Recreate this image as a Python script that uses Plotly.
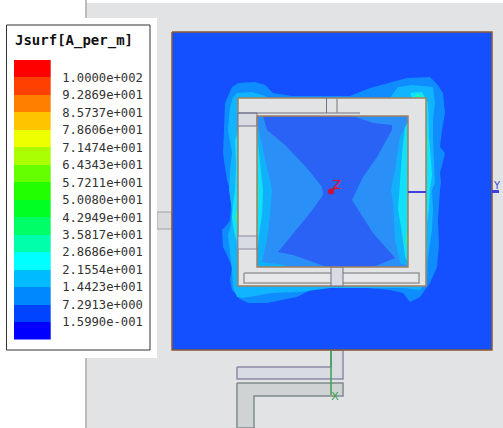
import plotly.graph_objects as go

W, H = 503, 428

legend_title = "Jsurf[A_per_m]"
band_colors = ["#ff0000", "#ff4000", "#ff8000", "#ffc400", "#eeff00", "#aaff00", "#66ff00", "#22ff00",
               "#00ff22", "#00ff66", "#00ffaa", "#00ffff", "#00bbff", "#0088ff", "#0044ff", "#0000ff"]
band_labels = ["1.0000e+002", "9.2869e+001", "8.5737e+001", "7.8606e+001", "7.1474e+001",
               "6.4343e+001", "5.7211e+001", "5.0080e+001", "4.2949e+001", "3.5817e+001",
               "2.8686e+001", "2.1554e+001", "1.4423e+001", "7.2913e+000", "1.5990e-001"]

halo_blue = [(225,103),(232,87),(238,83),(255,82),(265,85),(273,93),(292,96),(350,96),(370,88),(390,83),
             (407,78),(430,77),(437,84),(443,93),(445,113),(442,130),(440,147),(445,153),(442,165),(440,173),
             (441,182),(440,190),(439,205),(438,220),(439,245),(437,267),(430,283),(420,297),(410,302),
             (403,293),(390,290),(367,288),(317,287),(297,297),(267,303),(248,303),(240,299),(232,290),
             (230,280),(232,267),(227,255),(223,247),(222,230),(226,226),(230,220),(231,205),(230,190),
             (227,180),(225,167),(223,153),(224,130)]
halo_light = [(230,107),(233,97),(237,93),(252,92),(262,95),(270,98),(390,98),(398,87),(412,85),(433,87),
              (435,103),(433,120),(433,137),(434,160),(435,183),(432,190),(433,210),(432,230),(430,245),
              (428,257),(427,280),(420,290),(403,288),(330,288),(300,292),(272,293),(255,296),(242,298),
              (237,297),(233,287),(232,270),(230,250),(228,235),(231,225),(232,210),(229,190),(230,170),
              (232,153),(228,130)]
halo_cyan_left = [(238,132),(235,140),(236,165),(235,190),(233,205),(232,218),(234,232),(238,245)]
halo_cyan_right = [(410,93),(422,92),(428,103),(429,137),(431,160),(432,175),(430,190),(429,207),(427,223),
                   (427,250),(426,260),(426,98),(412,98)]
halo_green_right = [(414,97),(418,94),(423,97)]
halo_green_right_side = [(426,130),(428,143),(426,158)]
halo_green_left = [(238,205),(235,217),(238,228)]

inner_side_left = [(257,122),(262,145),(268,170),(272,190),(270,215),(267,240),(262,262),(285,265),(285,267),(257,267)]
inner_cyan_left = [(257,133),(260,160),(263,190),(262,215),(259,235),(257,250)]
inner_green_left = [(257,172),(259,186),(259,205),(257,215)]
inner_side_right = [(408,122),(400,137),(395,170),(391,190),(393,203),(395,240),(400,263),(408,266)]
inner_cyan_right = [(408,122),(405,127),(402,153),(400,187),(398,210),(402,233),(405,257),(408,262)]
inner_green_right = [(408,225),(405,240),(408,252)]
hourglass = [(263,116),(267,130),(285,145),(307,168),(322,187),(323,195),(310,213),(278,252),(293,255),
             (327,267),(373,267),(395,258),(373,233),(352,200),(363,177),(377,157),(392,130),(392,125),
             (373,123),(353,116)]

l_strip = [(237,367),(331,367),(331,350),(343,350),(343,379),(237,379)]
l_feed = [(237,383),(343,383),(343,396),(254,396),(254,428),(237,428)]


def rect(x0, y0, x1, y1):
    return [(x0, y0), (x1, y0), (x1, y1), (x0, y1)]


fig = go.Figure()


def poly(points, fill=None, line=None, width=1):
    xs = [p[0] for p in points] + [points[0][0]]
    ys = [p[1] for p in points] + [points[0][1]]
    fig.add_trace(go.Scatter(x=xs, y=ys, mode="lines", fill="toself" if fill else None,
                             fillcolor=fill, line=dict(color=line or "rgba(0,0,0,0)", width=width if line else 0),
                             hoverinfo="skip", showlegend=False))


def seg(xs, ys, color, width=1):
    fig.add_trace(go.Scatter(x=xs, y=ys, mode="lines", line=dict(color=color, width=width),
                             hoverinfo="skip", showlegend=False))


def label(x, y, text, color, size):
    fig.add_trace(go.Scatter(x=[x], y=[y], mode="text", text=[text],
                             textfont=dict(color=color, size=size, family="DejaVu Sans"),
                             hoverinfo="skip", showlegend=False))


# background
poly(rect(87, 3, 503, 428), "#e2e3e5")
seg([86, 86], [0, 428], "#777777", 1)
poly(rect(157, 212, 172, 229), "#d8dade", "#a0a2a8")
poly(rect(0, 18, 157, 358), "#ffffff")

# lower feed
poly(l_feed, "#d0d3d3", "#7f8c8c", 1.5)
poly(l_strip, "#d9dbe3", "#8a8aa8", 1.5)

# plate and field
poly(rect(172, 32, 492, 350), "#1450ff", "#8a5a30", 1.5)
poly(halo_blue, "#0f8cff")
poly(halo_light, "#10b4ff")
poly(halo_cyan_left, "#10e4fa")
poly(halo_cyan_right, "#10e4fa")
poly(halo_green_right, "#20f5b0")
poly(halo_green_right_side, "#20f5b0")
poly(halo_green_left, "#20f5b0")

# ring
poly(rect(238, 98, 426, 286), "#e2e3e5", "#a08060", 1.5)
poly(rect(238, 113, 257, 126), "#d9dbe3", "#70708a", 1)
seg([238, 360], [113, 113], "#70708a", 1)
poly(rect(238, 236, 257, 249), "#d9dbe3", "#8a8aa0", 1)
seg([326.5, 326.5], [98, 113], "#70708a", 1)
seg([337, 337], [98, 113], "#9a9a9a", 1.5)
poly(rect(244, 273, 419, 283), "#e6e7e9", "#999999", 1.5)
poly(rect(331, 267, 343, 286), "#d9dbe3", "#70708a", 1)

# inner square
poly(rect(257, 116, 408, 267), "#2a90f8")
poly(inner_side_left, "#10b0fb")
poly(inner_cyan_left, "#10e0f8")
poly(inner_green_left, "#18e8d0")
poly(inner_side_right, "#10b0fb")
poly(inner_cyan_right, "#10e0f8")
poly(inner_green_right, "#20f0b0")
poly(hourglass, "#2962f5")
poly(rect(257, 116, 408, 267), None, "#a08060", 1.5)

# ports and markers
seg([408, 426], [192, 192], "#4040e0", 2)
seg([492, 499], [191.5, 191.5], "#4040e0", 3)
label(497, 186, "Y", "#4040e0", 10)
seg([331, 337], [191.5, 187], "#e01020", 1.5)
fig.add_trace(go.Scatter(x=[331], y=[191.5], mode="markers", marker=dict(color="#d01030", size=6),
                         hoverinfo="skip", showlegend=False))
label(337, 186, "Z", "#ee1020", 13)
seg([331, 331], [350, 395], "#3aa050", 1.5)
label(335, 397, "X", "#3aa050", 11)

# legend box
poly(rect(6.5, 25, 150, 350), "#ffffff", "#333333", 1)

# legend bands
fig.add_trace(go.Bar(x=[0] * len(band_colors), y=[1] * len(band_colors), base=list(range(len(band_colors))),
                     width=1, marker=dict(color=band_colors[::-1], line=dict(width=0)),
                     xaxis="x2", yaxis="y2", hoverinfo="skip", showlegend=False))

fig.update_layout(
    width=W, height=H, margin=dict(l=0, r=0, t=0, b=0),
    paper_bgcolor="#ffffff", plot_bgcolor="#ffffff",
    barmode="overlay", bargap=0,
    xaxis=dict(range=[0, W], visible=False, fixedrange=True),
    yaxis=dict(range=[H, 0], visible=False, fixedrange=True),
    xaxis2=dict(domain=[13.7 / W, 50.7 / W], range=[-0.5, 0.5], visible=False, anchor="y2", fixedrange=True),
    yaxis2=dict(domain=[1 - 339.5 / H, 1 - 60 / H], range=[0, len(band_colors)], anchor="x2", side="right",
                tickvals=list(range(len(band_labels), 0, -1)), ticktext=band_labels,
                tickfont=dict(family="DejaVu Sans Mono", size=12.2, color="#333333"),
                ticks="outside", ticklen=8, tickcolor="rgba(0,0,0,0)", showgrid=False,
                zeroline=False, showline=False, fixedrange=True),
    annotations=[dict(text="<b>%s</b>" % legend_title, xref="paper", yref="paper", x=13 / W, y=1 - 40 / H,
                      xanchor="left", yanchor="middle", showarrow=False,
                      font=dict(family="DejaVu Sans Mono", size=14, color="#111111"))],
)

fig.write_html("out.html", config={"displayModeBar": False},
               post_script="document.body.style.margin='0';document.body.style.overflow='hidden';")
